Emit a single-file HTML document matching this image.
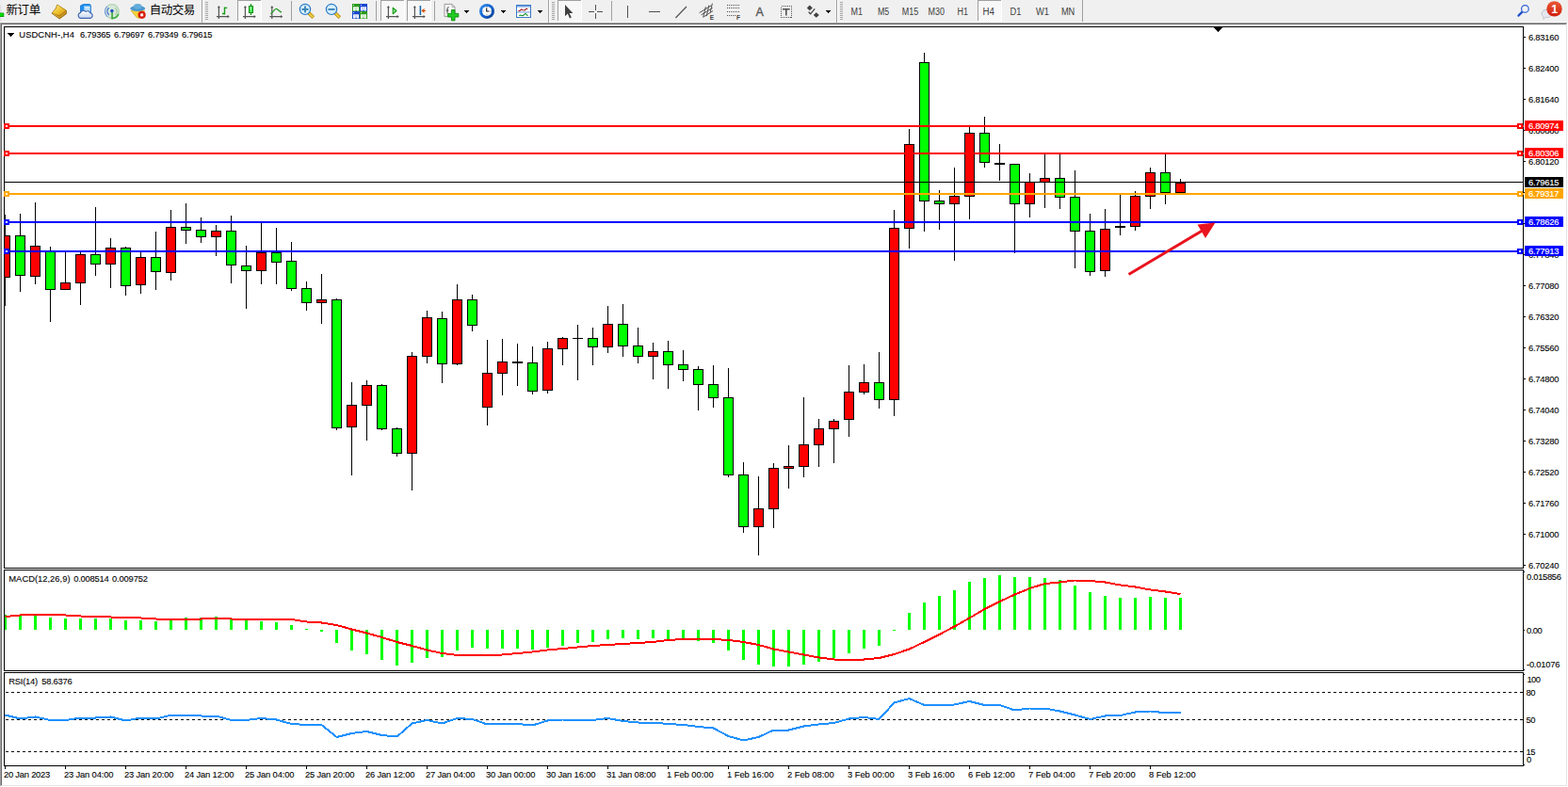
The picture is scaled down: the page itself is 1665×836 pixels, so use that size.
<!DOCTYPE html>
<html><head><meta charset="utf-8"><title>USDCNH-,H4</title>
<style>html,body{margin:0;padding:0;background:#fff;overflow:hidden}body{width:1665px;height:836px;position:relative;font-family:"Liberation Sans",sans-serif}</style>
</head><body>
<svg width="1665" height="836" viewBox="0 0 1665 836" style="position:absolute;left:0;top:0;display:block">
<defs><clipPath id="cm"><rect x="5" y="29" width="1612" height="574"/></clipPath>
<clipPath id="cmacd"><rect x="5" y="606" width="1612" height="106"/></clipPath>
<clipPath id="crsi"><rect x="5" y="715" width="1612" height="98"/></clipPath>
<linearGradient id="badge" x1="0" y1="0" x2="0" y2="1"><stop offset="0" stop-color="#ea5a36"/><stop offset="1" stop-color="#d01f0c"/></linearGradient>
</defs>
<rect width="1665" height="836" fill="#fff"/>
<rect width="1665" height="24" fill="#f0f0f0"/>
<g shape-rendering="crispEdges">
<rect y="23" width="1665" height="1" fill="#f8f8f8"/>
<rect y="24" width="1664" height="1" fill="#a0a0a0"/>
<rect x="1" y="25" width="1662" height="1" fill="#696969"/>
<rect x="0" y="24" width="1" height="811" fill="#a0a0a0"/>
<rect x="1" y="25" width="1" height="809" fill="#696969"/>
<rect x="1663" y="25" width="1" height="810" fill="#e3e3e3"/>
<rect x="1" y="834" width="1663" height="1" fill="#e3e3e3"/>
</g>
<g shape-rendering="crispEdges">
<rect x="4" y="28" width="1614" height="1" fill="#000"/>
<rect x="4" y="603" width="1614" height="1" fill="#000"/>
<rect x="4" y="605" width="1614" height="1" fill="#000"/>
<rect x="4" y="712" width="1614" height="1" fill="#000"/>
<rect x="4" y="714" width="1614" height="1" fill="#000"/>
<rect x="4" y="813" width="1614" height="1" fill="#000"/>
<rect x="4" y="28" width="1" height="576" fill="#000"/>
<rect x="4" y="605" width="1" height="108" fill="#000"/>
<rect x="4" y="714" width="1" height="100" fill="#000"/>
<rect x="1617" y="28" width="1" height="576" fill="#000"/>
<rect x="1617" y="605" width="1" height="108" fill="#000"/>
<rect x="1617" y="714" width="1" height="100" fill="#000"/>
<rect x="1618" y="39" width="2" height="1" fill="#000"/>
<rect x="1618" y="72" width="2" height="1" fill="#000"/>
<rect x="1618" y="105" width="2" height="1" fill="#000"/>
<rect x="1618" y="138" width="2" height="1" fill="#000"/>
<rect x="1618" y="171" width="2" height="1" fill="#000"/>
<rect x="1618" y="204" width="2" height="1" fill="#000"/>
<rect x="1618" y="237" width="2" height="1" fill="#000"/>
<rect x="1618" y="270" width="2" height="1" fill="#000"/>
<rect x="1618" y="303" width="2" height="1" fill="#000"/>
<rect x="1618" y="336" width="2" height="1" fill="#000"/>
<rect x="1618" y="369" width="2" height="1" fill="#000"/>
<rect x="1618" y="402" width="2" height="1" fill="#000"/>
<rect x="1618" y="435" width="2" height="1" fill="#000"/>
<rect x="1618" y="468" width="2" height="1" fill="#000"/>
<rect x="1618" y="501" width="2" height="1" fill="#000"/>
<rect x="1618" y="534" width="2" height="1" fill="#000"/>
<rect x="1618" y="567" width="2" height="1" fill="#000"/>
<rect x="1618" y="600" width="2" height="1" fill="#000"/>
<rect x="1618" y="607" width="1" height="1" fill="#000"/>
<rect x="1618" y="669" width="1" height="1" fill="#000"/>
<rect x="1618" y="711" width="1" height="1" fill="#000"/>
<rect x="1618" y="716" width="1" height="1" fill="#000"/>
<rect x="1618" y="812" width="1" height="1" fill="#000"/>
<rect x="5" y="813" width="1" height="4" fill="#000"/>
<rect x="69" y="813" width="1" height="4" fill="#000"/>
<rect x="133" y="813" width="1" height="4" fill="#000"/>
<rect x="197" y="813" width="1" height="4" fill="#000"/>
<rect x="261" y="813" width="1" height="4" fill="#000"/>
<rect x="325" y="813" width="1" height="4" fill="#000"/>
<rect x="389" y="813" width="1" height="4" fill="#000"/>
<rect x="453" y="813" width="1" height="4" fill="#000"/>
<rect x="517" y="813" width="1" height="4" fill="#000"/>
<rect x="581" y="813" width="1" height="4" fill="#000"/>
<rect x="645" y="813" width="1" height="4" fill="#000"/>
<rect x="709" y="813" width="1" height="4" fill="#000"/>
<rect x="773" y="813" width="1" height="4" fill="#000"/>
<rect x="837" y="813" width="1" height="4" fill="#000"/>
<rect x="901" y="813" width="1" height="4" fill="#000"/>
<rect x="965" y="813" width="1" height="4" fill="#000"/>
<rect x="1029" y="813" width="1" height="4" fill="#000"/>
<rect x="1093" y="813" width="1" height="4" fill="#000"/>
<rect x="1157" y="813" width="1" height="4" fill="#000"/>
<rect x="1221" y="813" width="1" height="4" fill="#000"/>
<g clip-path="url(#cm)">
<rect x="5" y="228" width="1" height="97" fill="#000"/>
<rect x="0" y="250" width="11" height="45" fill="#000"/>
<rect x="1" y="251" width="9" height="43" fill="#ff0000"/>
<rect x="21" y="227" width="1" height="83" fill="#000"/>
<rect x="16" y="250" width="11" height="43" fill="#000"/>
<rect x="17" y="251" width="9" height="41" fill="#00ff00"/>
<rect x="37" y="215" width="1" height="87" fill="#000"/>
<rect x="32" y="261" width="11" height="33" fill="#000"/>
<rect x="33" y="262" width="9" height="31" fill="#ff0000"/>
<rect x="53" y="262" width="1" height="80" fill="#000"/>
<rect x="48" y="267" width="11" height="41" fill="#000"/>
<rect x="49" y="268" width="9" height="39" fill="#00ff00"/>
<rect x="69" y="268" width="1" height="40" fill="#000"/>
<rect x="64" y="300" width="11" height="8" fill="#000"/>
<rect x="65" y="301" width="9" height="6" fill="#ff0000"/>
<rect x="85" y="268" width="1" height="56" fill="#000"/>
<rect x="80" y="270" width="11" height="31" fill="#000"/>
<rect x="81" y="271" width="9" height="29" fill="#ff0000"/>
<rect x="101" y="220" width="1" height="73" fill="#000"/>
<rect x="96" y="270" width="11" height="11" fill="#000"/>
<rect x="97" y="271" width="9" height="9" fill="#00ff00"/>
<rect x="117" y="253" width="1" height="53" fill="#000"/>
<rect x="112" y="263" width="11" height="18" fill="#000"/>
<rect x="113" y="264" width="9" height="16" fill="#ff0000"/>
<rect x="133" y="262" width="1" height="52" fill="#000"/>
<rect x="128" y="263" width="11" height="41" fill="#000"/>
<rect x="129" y="264" width="9" height="39" fill="#00ff00"/>
<rect x="149" y="268" width="1" height="44" fill="#000"/>
<rect x="144" y="273" width="11" height="30" fill="#000"/>
<rect x="145" y="274" width="9" height="28" fill="#ff0000"/>
<rect x="165" y="246" width="1" height="62" fill="#000"/>
<rect x="160" y="273" width="11" height="16" fill="#000"/>
<rect x="161" y="274" width="9" height="14" fill="#00ff00"/>
<rect x="181" y="223" width="1" height="75" fill="#000"/>
<rect x="176" y="241" width="11" height="49" fill="#000"/>
<rect x="177" y="242" width="9" height="47" fill="#ff0000"/>
<rect x="197" y="216" width="1" height="43" fill="#000"/>
<rect x="192" y="241" width="11" height="4" fill="#000"/>
<rect x="193" y="242" width="9" height="2" fill="#00ff00"/>
<rect x="213" y="231" width="1" height="27" fill="#000"/>
<rect x="208" y="244" width="11" height="8" fill="#000"/>
<rect x="209" y="245" width="9" height="6" fill="#00ff00"/>
<rect x="229" y="239" width="1" height="33" fill="#000"/>
<rect x="224" y="245" width="11" height="7" fill="#000"/>
<rect x="225" y="246" width="9" height="5" fill="#ff0000"/>
<rect x="245" y="229" width="1" height="72" fill="#000"/>
<rect x="240" y="245" width="11" height="37" fill="#000"/>
<rect x="241" y="246" width="9" height="35" fill="#00ff00"/>
<rect x="261" y="261" width="1" height="67" fill="#000"/>
<rect x="256" y="282" width="11" height="6" fill="#000"/>
<rect x="257" y="283" width="9" height="4" fill="#00ff00"/>
<rect x="277" y="237" width="1" height="65" fill="#000"/>
<rect x="272" y="268" width="11" height="20" fill="#000"/>
<rect x="273" y="269" width="9" height="18" fill="#ff0000"/>
<rect x="293" y="242" width="1" height="60" fill="#000"/>
<rect x="288" y="268" width="11" height="11" fill="#000"/>
<rect x="289" y="269" width="9" height="9" fill="#00ff00"/>
<rect x="309" y="257" width="1" height="52" fill="#000"/>
<rect x="304" y="277" width="11" height="30" fill="#000"/>
<rect x="305" y="278" width="9" height="28" fill="#00ff00"/>
<rect x="325" y="299" width="1" height="31" fill="#000"/>
<rect x="320" y="306" width="11" height="16" fill="#000"/>
<rect x="321" y="307" width="9" height="14" fill="#00ff00"/>
<rect x="341" y="291" width="1" height="53" fill="#000"/>
<rect x="336" y="318" width="11" height="4" fill="#000"/>
<rect x="337" y="319" width="9" height="2" fill="#ff0000"/>
<rect x="357" y="317" width="1" height="140" fill="#000"/>
<rect x="352" y="318" width="11" height="137" fill="#000"/>
<rect x="353" y="319" width="9" height="135" fill="#00ff00"/>
<rect x="373" y="406" width="1" height="99" fill="#000"/>
<rect x="368" y="430" width="11" height="24" fill="#000"/>
<rect x="369" y="431" width="9" height="22" fill="#ff0000"/>
<rect x="389" y="404" width="1" height="64" fill="#000"/>
<rect x="384" y="409" width="11" height="22" fill="#000"/>
<rect x="385" y="410" width="9" height="20" fill="#ff0000"/>
<rect x="405" y="408" width="1" height="49" fill="#000"/>
<rect x="400" y="409" width="11" height="47" fill="#000"/>
<rect x="401" y="410" width="9" height="45" fill="#00ff00"/>
<rect x="421" y="454" width="1" height="31" fill="#000"/>
<rect x="416" y="455" width="11" height="27" fill="#000"/>
<rect x="417" y="456" width="9" height="25" fill="#00ff00"/>
<rect x="437" y="374" width="1" height="147" fill="#000"/>
<rect x="432" y="378" width="11" height="104" fill="#000"/>
<rect x="433" y="379" width="9" height="102" fill="#ff0000"/>
<rect x="453" y="330" width="1" height="56" fill="#000"/>
<rect x="448" y="337" width="11" height="42" fill="#000"/>
<rect x="449" y="338" width="9" height="40" fill="#ff0000"/>
<rect x="469" y="331" width="1" height="76" fill="#000"/>
<rect x="464" y="338" width="11" height="49" fill="#000"/>
<rect x="465" y="339" width="9" height="47" fill="#00ff00"/>
<rect x="485" y="302" width="1" height="86" fill="#000"/>
<rect x="480" y="318" width="11" height="69" fill="#000"/>
<rect x="481" y="319" width="9" height="67" fill="#ff0000"/>
<rect x="501" y="313" width="1" height="39" fill="#000"/>
<rect x="496" y="318" width="11" height="28" fill="#000"/>
<rect x="497" y="319" width="9" height="26" fill="#00ff00"/>
<rect x="517" y="361" width="1" height="91" fill="#000"/>
<rect x="512" y="396" width="11" height="37" fill="#000"/>
<rect x="513" y="397" width="9" height="35" fill="#ff0000"/>
<rect x="533" y="360" width="1" height="60" fill="#000"/>
<rect x="528" y="384" width="11" height="13" fill="#000"/>
<rect x="529" y="385" width="9" height="11" fill="#ff0000"/>
<rect x="549" y="365" width="1" height="45" fill="#000"/>
<rect x="544" y="384" width="11" height="2" fill="#000"/>
<rect x="565" y="368" width="1" height="51" fill="#000"/>
<rect x="560" y="385" width="11" height="31" fill="#000"/>
<rect x="561" y="386" width="9" height="29" fill="#00ff00"/>
<rect x="581" y="363" width="1" height="55" fill="#000"/>
<rect x="576" y="370" width="11" height="45" fill="#000"/>
<rect x="577" y="371" width="9" height="43" fill="#ff0000"/>
<rect x="597" y="358" width="1" height="30" fill="#000"/>
<rect x="592" y="359" width="11" height="12" fill="#000"/>
<rect x="593" y="360" width="9" height="10" fill="#ff0000"/>
<rect x="613" y="345" width="1" height="59" fill="#000"/>
<rect x="608" y="359" width="11" height="1" fill="#000"/>
<rect x="629" y="348" width="1" height="40" fill="#000"/>
<rect x="624" y="359" width="11" height="10" fill="#000"/>
<rect x="625" y="360" width="9" height="8" fill="#00ff00"/>
<rect x="645" y="325" width="1" height="50" fill="#000"/>
<rect x="640" y="344" width="11" height="25" fill="#000"/>
<rect x="641" y="345" width="9" height="23" fill="#ff0000"/>
<rect x="661" y="323" width="1" height="56" fill="#000"/>
<rect x="656" y="344" width="11" height="24" fill="#000"/>
<rect x="657" y="345" width="9" height="22" fill="#00ff00"/>
<rect x="677" y="348" width="1" height="38" fill="#000"/>
<rect x="672" y="367" width="11" height="12" fill="#000"/>
<rect x="673" y="368" width="9" height="10" fill="#00ff00"/>
<rect x="693" y="364" width="1" height="39" fill="#000"/>
<rect x="688" y="373" width="11" height="6" fill="#000"/>
<rect x="689" y="374" width="9" height="4" fill="#ff0000"/>
<rect x="709" y="362" width="1" height="51" fill="#000"/>
<rect x="704" y="373" width="11" height="15" fill="#000"/>
<rect x="705" y="374" width="9" height="13" fill="#00ff00"/>
<rect x="725" y="372" width="1" height="33" fill="#000"/>
<rect x="720" y="387" width="11" height="6" fill="#000"/>
<rect x="721" y="388" width="9" height="4" fill="#00ff00"/>
<rect x="741" y="389" width="1" height="47" fill="#000"/>
<rect x="736" y="392" width="11" height="17" fill="#000"/>
<rect x="737" y="393" width="9" height="15" fill="#00ff00"/>
<rect x="757" y="388" width="1" height="45" fill="#000"/>
<rect x="752" y="408" width="11" height="15" fill="#000"/>
<rect x="753" y="409" width="9" height="13" fill="#00ff00"/>
<rect x="773" y="391" width="1" height="116" fill="#000"/>
<rect x="768" y="422" width="11" height="83" fill="#000"/>
<rect x="769" y="423" width="9" height="81" fill="#00ff00"/>
<rect x="789" y="491" width="1" height="75" fill="#000"/>
<rect x="784" y="504" width="11" height="56" fill="#000"/>
<rect x="785" y="505" width="9" height="54" fill="#00ff00"/>
<rect x="805" y="506" width="1" height="84" fill="#000"/>
<rect x="800" y="540" width="11" height="20" fill="#000"/>
<rect x="801" y="541" width="9" height="18" fill="#ff0000"/>
<rect x="821" y="492" width="1" height="69" fill="#000"/>
<rect x="816" y="497" width="11" height="44" fill="#000"/>
<rect x="817" y="498" width="9" height="42" fill="#ff0000"/>
<rect x="837" y="473" width="1" height="46" fill="#000"/>
<rect x="832" y="495" width="11" height="3" fill="#000"/>
<rect x="833" y="496" width="9" height="1" fill="#ff0000"/>
<rect x="853" y="422" width="1" height="85" fill="#000"/>
<rect x="848" y="472" width="11" height="24" fill="#000"/>
<rect x="849" y="473" width="9" height="22" fill="#ff0000"/>
<rect x="869" y="445" width="1" height="51" fill="#000"/>
<rect x="864" y="455" width="11" height="18" fill="#000"/>
<rect x="865" y="456" width="9" height="16" fill="#ff0000"/>
<rect x="885" y="445" width="1" height="47" fill="#000"/>
<rect x="880" y="447" width="11" height="9" fill="#000"/>
<rect x="881" y="448" width="9" height="7" fill="#ff0000"/>
<rect x="901" y="388" width="1" height="76" fill="#000"/>
<rect x="896" y="416" width="11" height="30" fill="#000"/>
<rect x="897" y="417" width="9" height="28" fill="#ff0000"/>
<rect x="917" y="387" width="1" height="32" fill="#000"/>
<rect x="912" y="406" width="11" height="11" fill="#000"/>
<rect x="913" y="407" width="9" height="9" fill="#ff0000"/>
<rect x="933" y="374" width="1" height="60" fill="#000"/>
<rect x="928" y="406" width="11" height="19" fill="#000"/>
<rect x="929" y="407" width="9" height="17" fill="#00ff00"/>
<rect x="949" y="223" width="1" height="219" fill="#000"/>
<rect x="944" y="242" width="11" height="183" fill="#000"/>
<rect x="945" y="243" width="9" height="181" fill="#ff0000"/>
<rect x="965" y="137" width="1" height="127" fill="#000"/>
<rect x="960" y="153" width="11" height="90" fill="#000"/>
<rect x="961" y="154" width="9" height="88" fill="#ff0000"/>
<rect x="981" y="56" width="1" height="190" fill="#000"/>
<rect x="976" y="66" width="11" height="148" fill="#000"/>
<rect x="977" y="67" width="9" height="146" fill="#00ff00"/>
<rect x="997" y="202" width="1" height="42" fill="#000"/>
<rect x="992" y="213" width="11" height="4" fill="#000"/>
<rect x="993" y="214" width="9" height="2" fill="#00ff00"/>
<rect x="1013" y="178" width="1" height="99" fill="#000"/>
<rect x="1008" y="208" width="11" height="9" fill="#000"/>
<rect x="1009" y="209" width="9" height="7" fill="#ff0000"/>
<rect x="1029" y="135" width="1" height="98" fill="#000"/>
<rect x="1024" y="141" width="11" height="68" fill="#000"/>
<rect x="1025" y="142" width="9" height="66" fill="#ff0000"/>
<rect x="1045" y="124" width="1" height="54" fill="#000"/>
<rect x="1040" y="141" width="11" height="32" fill="#000"/>
<rect x="1041" y="142" width="9" height="30" fill="#00ff00"/>
<rect x="1061" y="153" width="1" height="39" fill="#000"/>
<rect x="1056" y="173" width="11" height="2" fill="#000"/>
<rect x="1077" y="174" width="1" height="95" fill="#000"/>
<rect x="1072" y="174" width="11" height="43" fill="#000"/>
<rect x="1073" y="175" width="9" height="41" fill="#00ff00"/>
<rect x="1093" y="184" width="1" height="47" fill="#000"/>
<rect x="1088" y="193" width="11" height="24" fill="#000"/>
<rect x="1089" y="194" width="9" height="22" fill="#ff0000"/>
<rect x="1109" y="164" width="1" height="57" fill="#000"/>
<rect x="1104" y="189" width="11" height="5" fill="#000"/>
<rect x="1105" y="190" width="9" height="3" fill="#ff0000"/>
<rect x="1125" y="164" width="1" height="58" fill="#000"/>
<rect x="1120" y="189" width="11" height="21" fill="#000"/>
<rect x="1121" y="190" width="9" height="19" fill="#00ff00"/>
<rect x="1141" y="181" width="1" height="104" fill="#000"/>
<rect x="1136" y="209" width="11" height="37" fill="#000"/>
<rect x="1137" y="210" width="9" height="35" fill="#00ff00"/>
<rect x="1157" y="227" width="1" height="66" fill="#000"/>
<rect x="1152" y="245" width="11" height="44" fill="#000"/>
<rect x="1153" y="246" width="9" height="42" fill="#00ff00"/>
<rect x="1173" y="222" width="1" height="72" fill="#000"/>
<rect x="1168" y="243" width="11" height="45" fill="#000"/>
<rect x="1169" y="244" width="9" height="43" fill="#ff0000"/>
<rect x="1189" y="207" width="1" height="43" fill="#000"/>
<rect x="1184" y="240" width="11" height="2" fill="#000"/>
<rect x="1205" y="203" width="1" height="42" fill="#000"/>
<rect x="1200" y="208" width="11" height="33" fill="#000"/>
<rect x="1201" y="209" width="9" height="31" fill="#ff0000"/>
<rect x="1221" y="178" width="1" height="44" fill="#000"/>
<rect x="1216" y="183" width="11" height="26" fill="#000"/>
<rect x="1217" y="184" width="9" height="24" fill="#ff0000"/>
<rect x="1237" y="164" width="1" height="53" fill="#000"/>
<rect x="1232" y="183" width="11" height="22" fill="#000"/>
<rect x="1233" y="184" width="9" height="20" fill="#00ff00"/>
<rect x="1253" y="190" width="1" height="15" fill="#000"/>
<rect x="1248" y="194" width="11" height="11" fill="#000"/>
<rect x="1249" y="195" width="9" height="9" fill="#ff0000"/>
</g>
<rect x="5" y="193" width="1612" height="1" fill="#000"/>
<rect x="4" y="133" width="1614" height="2" fill="#ff0000"/>
<rect x="4" y="131" width="6" height="6" fill="#ff0000"/><rect x="6" y="133" width="2" height="2" fill="#fff"/>
<rect x="1611" y="131" width="6" height="6" fill="#ff0000"/><rect x="1613" y="133" width="2" height="2" fill="#fff"/>
<rect x="4" y="162" width="1614" height="2" fill="#ff0000"/>
<rect x="4" y="160" width="6" height="6" fill="#ff0000"/><rect x="6" y="162" width="2" height="2" fill="#fff"/>
<rect x="1611" y="160" width="6" height="6" fill="#ff0000"/><rect x="1613" y="162" width="2" height="2" fill="#fff"/>
<rect x="4" y="205" width="1614" height="2" fill="#ffa500"/>
<rect x="4" y="203" width="6" height="6" fill="#ffa500"/><rect x="6" y="205" width="2" height="2" fill="#fff"/>
<rect x="1611" y="203" width="6" height="6" fill="#ffa500"/><rect x="1613" y="205" width="2" height="2" fill="#fff"/>
<rect x="4" y="235" width="1614" height="2" fill="#0000ff"/>
<rect x="4" y="233" width="6" height="6" fill="#0000ff"/><rect x="6" y="235" width="2" height="2" fill="#fff"/>
<rect x="1611" y="233" width="6" height="6" fill="#0000ff"/><rect x="1613" y="235" width="2" height="2" fill="#fff"/>
<rect x="4" y="266" width="1614" height="2" fill="#0000ff"/>
<rect x="4" y="264" width="6" height="6" fill="#0000ff"/><rect x="6" y="266" width="2" height="2" fill="#fff"/>
<rect x="1611" y="264" width="6" height="6" fill="#0000ff"/><rect x="1613" y="266" width="2" height="2" fill="#fff"/>
<g clip-path="url(#cmacd)">
<rect x="4" y="653" width="3" height="16" fill="#00ff00"/>
<rect x="20" y="654" width="3" height="15" fill="#00ff00"/>
<rect x="36" y="654" width="3" height="15" fill="#00ff00"/>
<rect x="52" y="656" width="3" height="13" fill="#00ff00"/>
<rect x="68" y="657" width="3" height="12" fill="#00ff00"/>
<rect x="84" y="657" width="3" height="12" fill="#00ff00"/>
<rect x="100" y="657" width="3" height="12" fill="#00ff00"/>
<rect x="116" y="657" width="3" height="12" fill="#00ff00"/>
<rect x="132" y="659" width="3" height="10" fill="#00ff00"/>
<rect x="148" y="659" width="3" height="10" fill="#00ff00"/>
<rect x="164" y="660" width="3" height="9" fill="#00ff00"/>
<rect x="180" y="658" width="3" height="11" fill="#00ff00"/>
<rect x="196" y="656" width="3" height="13" fill="#00ff00"/>
<rect x="212" y="656" width="3" height="13" fill="#00ff00"/>
<rect x="228" y="655" width="3" height="14" fill="#00ff00"/>
<rect x="244" y="657" width="3" height="12" fill="#00ff00"/>
<rect x="260" y="658" width="3" height="11" fill="#00ff00"/>
<rect x="276" y="660" width="3" height="9" fill="#00ff00"/>
<rect x="292" y="661" width="3" height="8" fill="#00ff00"/>
<rect x="308" y="664" width="3" height="5" fill="#00ff00"/>
<rect x="324" y="668" width="3" height="1" fill="#00ff00"/>
<rect x="340" y="669" width="3" height="2" fill="#00ff00"/>
<rect x="356" y="669" width="3" height="14" fill="#00ff00"/>
<rect x="372" y="669" width="3" height="22" fill="#00ff00"/>
<rect x="388" y="669" width="3" height="26" fill="#00ff00"/>
<rect x="404" y="669" width="3" height="32" fill="#00ff00"/>
<rect x="420" y="669" width="3" height="38" fill="#00ff00"/>
<rect x="436" y="669" width="3" height="35" fill="#00ff00"/>
<rect x="452" y="669" width="3" height="30" fill="#00ff00"/>
<rect x="468" y="669" width="3" height="29" fill="#00ff00"/>
<rect x="484" y="669" width="3" height="22" fill="#00ff00"/>
<rect x="500" y="669" width="3" height="19" fill="#00ff00"/>
<rect x="516" y="669" width="3" height="20" fill="#00ff00"/>
<rect x="532" y="669" width="3" height="20" fill="#00ff00"/>
<rect x="548" y="669" width="3" height="20" fill="#00ff00"/>
<rect x="564" y="669" width="3" height="21" fill="#00ff00"/>
<rect x="580" y="669" width="3" height="19" fill="#00ff00"/>
<rect x="596" y="669" width="3" height="17" fill="#00ff00"/>
<rect x="612" y="669" width="3" height="14" fill="#00ff00"/>
<rect x="628" y="669" width="3" height="13" fill="#00ff00"/>
<rect x="644" y="669" width="3" height="10" fill="#00ff00"/>
<rect x="660" y="669" width="3" height="9" fill="#00ff00"/>
<rect x="676" y="669" width="3" height="10" fill="#00ff00"/>
<rect x="692" y="669" width="3" height="9" fill="#00ff00"/>
<rect x="708" y="669" width="3" height="11" fill="#00ff00"/>
<rect x="724" y="669" width="3" height="11" fill="#00ff00"/>
<rect x="740" y="669" width="3" height="12" fill="#00ff00"/>
<rect x="756" y="669" width="3" height="14" fill="#00ff00"/>
<rect x="772" y="669" width="3" height="22" fill="#00ff00"/>
<rect x="788" y="669" width="3" height="32" fill="#00ff00"/>
<rect x="804" y="669" width="3" height="37" fill="#00ff00"/>
<rect x="820" y="669" width="3" height="39" fill="#00ff00"/>
<rect x="836" y="669" width="3" height="39" fill="#00ff00"/>
<rect x="852" y="669" width="3" height="37" fill="#00ff00"/>
<rect x="868" y="669" width="3" height="34" fill="#00ff00"/>
<rect x="884" y="669" width="3" height="30" fill="#00ff00"/>
<rect x="900" y="669" width="3" height="25" fill="#00ff00"/>
<rect x="916" y="669" width="3" height="20" fill="#00ff00"/>
<rect x="932" y="669" width="3" height="17" fill="#00ff00"/>
<rect x="948" y="669" width="3" height="1" fill="#00ff00"/>
<rect x="964" y="651" width="3" height="18" fill="#00ff00"/>
<rect x="980" y="640" width="3" height="29" fill="#00ff00"/>
<rect x="996" y="633" width="3" height="36" fill="#00ff00"/>
<rect x="1012" y="627" width="3" height="42" fill="#00ff00"/>
<rect x="1028" y="618" width="3" height="51" fill="#00ff00"/>
<rect x="1044" y="614" width="3" height="55" fill="#00ff00"/>
<rect x="1060" y="611" width="3" height="58" fill="#00ff00"/>
<rect x="1076" y="613" width="3" height="56" fill="#00ff00"/>
<rect x="1092" y="613" width="3" height="56" fill="#00ff00"/>
<rect x="1108" y="614" width="3" height="55" fill="#00ff00"/>
<rect x="1124" y="616" width="3" height="53" fill="#00ff00"/>
<rect x="1140" y="622" width="3" height="47" fill="#00ff00"/>
<rect x="1156" y="629" width="3" height="40" fill="#00ff00"/>
<rect x="1172" y="633" width="3" height="36" fill="#00ff00"/>
<rect x="1188" y="635" width="3" height="34" fill="#00ff00"/>
<rect x="1204" y="635" width="3" height="34" fill="#00ff00"/>
<rect x="1220" y="634" width="3" height="35" fill="#00ff00"/>
<rect x="1236" y="635" width="3" height="34" fill="#00ff00"/>
<rect x="1252" y="635" width="3" height="34" fill="#00ff00"/>
</g>
<line x1="6" x2="1617" y1="735.5" y2="735.5" stroke="#000" stroke-width="1" stroke-dasharray="3 3"/>
<line x1="6" x2="1617" y1="764.5" y2="764.5" stroke="#000" stroke-width="1" stroke-dasharray="3 3"/>
<line x1="6" x2="1617" y1="798.5" y2="798.5" stroke="#000" stroke-width="1" stroke-dasharray="3 3"/>
</g>
<polyline clip-path="url(#cmacd)" points="5.5,655 21.5,653.5 37.5,653 53.5,653 69.5,653.5 85.5,654.5 101.5,655 117.5,655.5 133.5,656 149.5,656.5 165.5,657.5 181.5,657.5 197.5,657.5 213.5,657.5 229.5,657 245.5,657.5 261.5,657.5 277.5,657.5 293.5,657.5 309.5,658 325.5,660.5 341.5,661.5 357.5,664 373.5,668.5 389.5,672.5 405.5,677 421.5,682 437.5,686 453.5,690.5 469.5,694 485.5,696 501.5,696 517.5,696 533.5,695.5 549.5,694 565.5,692.5 581.5,690.5 597.5,689 613.5,687.5 629.5,686 645.5,685 661.5,684 677.5,683 693.5,682 709.5,680 725.5,679 741.5,678.5 757.5,679 773.5,680 789.5,682 805.5,685 821.5,689.5 837.5,692.5 853.5,695.5 869.5,698.5 885.5,700.5 901.5,700.5 917.5,700.5 933.5,699 949.5,695 965.5,689.5 981.5,682 997.5,674 1013.5,665.5 1029.5,656.5 1045.5,647 1061.5,639 1077.5,631.5 1093.5,625 1109.5,620 1125.5,618.5 1141.5,616.5 1157.5,617 1173.5,618.5 1189.5,621.5 1205.5,623.5 1221.5,626.5 1237.5,628.5 1253.5,631" fill="none" stroke="#ff0000" stroke-width="2" stroke-linejoin="round" shape-rendering="crispEdges"/>
<polyline clip-path="url(#crsi)" points="5.5,759.5 21.5,763.5 37.5,761.5 53.5,765 69.5,765 85.5,762.5 101.5,762.5 117.5,761.5 133.5,765.5 149.5,762.5 165.5,763.5 181.5,759.75 197.5,760 213.5,760.5 229.5,760.5 245.5,765 261.5,765 277.5,763 293.5,764.5 309.5,769 325.5,770 341.5,770 357.5,783 373.5,779 389.5,777 405.5,781 421.5,782.5 437.5,768.5 453.5,765 469.5,768.5 485.5,763 501.5,764 517.5,769.5 533.5,769 549.5,769 565.5,770.5 581.5,765.5 597.5,764.5 613.5,764.5 629.5,765 645.5,763 661.5,766 677.5,767.5 693.5,767.5 709.5,769 725.5,770 741.5,772 757.5,773.5 773.5,782 789.5,786.5 805.5,783 821.5,775.5 837.5,775.5 853.5,771.5 869.5,769.5 885.5,768 901.5,763.5 917.5,762 933.5,764 949.5,746.5 965.5,742 981.5,749 997.5,749 1013.5,748.5 1029.5,745 1045.5,749 1061.5,749 1077.5,754.5 1093.5,752.5 1109.5,752.5 1125.5,755.5 1141.5,759.5 1157.5,764 1173.5,760.5 1189.5,760 1205.5,756.5 1221.5,755.5 1237.5,757.3 1253.5,757.3" fill="none" stroke="#1e90ff" stroke-width="2" stroke-linejoin="round" shape-rendering="crispEdges"/>
<line x1="1198.5" y1="291.5" x2="1280" y2="243" stroke="#e8141e" stroke-width="3"/>
<polygon points="1290.5,236.5 1271.5,238.5 1280,253" fill="#e8141e"/>
<g shape-rendering="crispEdges" fill="#000"><rect x="1289" y="29" width="9" height="1"/><rect x="1290" y="30" width="7" height="1"/><rect x="1291" y="31" width="5" height="1"/><rect x="1292" y="32" width="3" height="1"/><rect x="1293" y="33" width="1" height="1"/></g>
<g shape-rendering="crispEdges" fill="#000"><rect x="8" y="35" width="7" height="1"/><rect x="9" y="36" width="5" height="1"/><rect x="10" y="37" width="3" height="1"/><rect x="11" y="38" width="1" height="1"/></g>
<g font-family="'Liberation Sans', sans-serif" font-size="9.4px" fill="#000" stroke="#000" stroke-width=".1">
<text x="20.3" y="39.7" xml:space="preserve" textLength="58.6" lengthAdjust="spacing">USDCNH-,H4</text>
<text x="85" y="39.7" xml:space="preserve" textLength="32.5" lengthAdjust="spacing">6.79365</text>
<text x="121" y="39.7" xml:space="preserve" textLength="32.5" lengthAdjust="spacing">6.79697</text>
<text x="157" y="39.7" xml:space="preserve" textLength="32.5" lengthAdjust="spacing">6.79349</text>
<text x="193" y="39.7" xml:space="preserve" textLength="32.5" lengthAdjust="spacing">6.79615</text>
<text x="9.3" y="618" xml:space="preserve" textLength="65.2" lengthAdjust="spacing">MACD(12,26,9)</text>
<text x="78.2" y="618" xml:space="preserve" textLength="37.5" lengthAdjust="spacing">0.008514</text>
<text x="119" y="618" xml:space="preserve" textLength="38" lengthAdjust="spacing">0.009752</text>
<text x="9.3" y="727" xml:space="preserve" textLength="30.9" lengthAdjust="spacing">RSI(14)</text>
<text x="44.2" y="727" xml:space="preserve" textLength="32.5" lengthAdjust="spacing">58.6376</text>
<text x="1623" y="43" xml:space="preserve" textLength="32.5" lengthAdjust="spacing">6.83160</text>
<text x="1623" y="76" xml:space="preserve" textLength="32.5" lengthAdjust="spacing">6.82400</text>
<text x="1623" y="109" xml:space="preserve" textLength="32.5" lengthAdjust="spacing">6.81640</text>
<text x="1623" y="142" xml:space="preserve" textLength="32.5" lengthAdjust="spacing">6.80880</text>
<text x="1623" y="175" xml:space="preserve" textLength="32.5" lengthAdjust="spacing">6.80120</text>
<text x="1623" y="208" xml:space="preserve" textLength="32.5" lengthAdjust="spacing">6.79360</text>
<text x="1623" y="241" xml:space="preserve" textLength="32.5" lengthAdjust="spacing">6.78600</text>
<text x="1623" y="274" xml:space="preserve" textLength="32.5" lengthAdjust="spacing">6.77840</text>
<text x="1623" y="307" xml:space="preserve" textLength="32.5" lengthAdjust="spacing">6.77080</text>
<text x="1623" y="340" xml:space="preserve" textLength="32.5" lengthAdjust="spacing">6.76320</text>
<text x="1623" y="373" xml:space="preserve" textLength="32.5" lengthAdjust="spacing">6.75560</text>
<text x="1623" y="406" xml:space="preserve" textLength="32.5" lengthAdjust="spacing">6.74800</text>
<text x="1623" y="439" xml:space="preserve" textLength="32.5" lengthAdjust="spacing">6.74040</text>
<text x="1623" y="472" xml:space="preserve" textLength="32.5" lengthAdjust="spacing">6.73280</text>
<text x="1623" y="505" xml:space="preserve" textLength="32.5" lengthAdjust="spacing">6.72520</text>
<text x="1623" y="538" xml:space="preserve" textLength="32.5" lengthAdjust="spacing">6.71760</text>
<text x="1623" y="571" xml:space="preserve" textLength="32.5" lengthAdjust="spacing">6.71000</text>
<text x="1623" y="604" xml:space="preserve" textLength="32.5" lengthAdjust="spacing">6.70240</text>
<text x="1621" y="616" xml:space="preserve" textLength="37" lengthAdjust="spacing">0.015856</text>
<text x="1621" y="673" xml:space="preserve" textLength="16.7" lengthAdjust="spacing">0.00</text>
<text x="1621" y="709" xml:space="preserve" textLength="35.4" lengthAdjust="spacing">-0.01076</text>
<text x="1621.4" y="725" xml:space="preserve" textLength="14.5" lengthAdjust="spacing">100</text>
<text x="1620.5" y="739" xml:space="preserve" textLength="10" lengthAdjust="spacing">80</text>
<text x="1620.5" y="768" xml:space="preserve" textLength="10" lengthAdjust="spacing">50</text>
<text x="1620.5" y="802" xml:space="preserve" textLength="10" lengthAdjust="spacing">15</text>
<text x="1621" y="810" xml:space="preserve">0</text>
<text x="4" y="826" xml:space="preserve" textLength="49.3" lengthAdjust="spacing">20 Jan 2023</text>
<text x="68" y="826" xml:space="preserve" textLength="52.4" lengthAdjust="spacing">23 Jan 04:00</text>
<text x="132" y="826" xml:space="preserve" textLength="52.4" lengthAdjust="spacing">23 Jan 20:00</text>
<text x="196" y="826" xml:space="preserve" textLength="52.4" lengthAdjust="spacing">24 Jan 12:00</text>
<text x="260" y="826" xml:space="preserve" textLength="52.4" lengthAdjust="spacing">25 Jan 04:00</text>
<text x="324" y="826" xml:space="preserve" textLength="52.4" lengthAdjust="spacing">25 Jan 20:00</text>
<text x="388" y="826" xml:space="preserve" textLength="52.4" lengthAdjust="spacing">26 Jan 12:00</text>
<text x="452" y="826" xml:space="preserve" textLength="52.4" lengthAdjust="spacing">27 Jan 04:00</text>
<text x="516" y="826" xml:space="preserve" textLength="52.4" lengthAdjust="spacing">30 Jan 00:00</text>
<text x="580" y="826" xml:space="preserve" textLength="52.4" lengthAdjust="spacing">30 Jan 16:00</text>
<text x="644" y="826" xml:space="preserve" textLength="52.4" lengthAdjust="spacing">31 Jan 08:00</text>
<text x="708" y="826" xml:space="preserve" textLength="49.6" lengthAdjust="spacing">1 Feb 00:00</text>
<text x="772" y="826" xml:space="preserve" textLength="49.6" lengthAdjust="spacing">1 Feb 16:00</text>
<text x="836" y="826" xml:space="preserve" textLength="49.6" lengthAdjust="spacing">2 Feb 08:00</text>
<text x="900" y="826" xml:space="preserve" textLength="49.6" lengthAdjust="spacing">3 Feb 00:00</text>
<text x="964" y="826" xml:space="preserve" textLength="49.6" lengthAdjust="spacing">3 Feb 16:00</text>
<text x="1028" y="826" xml:space="preserve" textLength="49.6" lengthAdjust="spacing">6 Feb 12:00</text>
<text x="1092" y="826" xml:space="preserve" textLength="49.6" lengthAdjust="spacing">7 Feb 04:00</text>
<text x="1156" y="826" xml:space="preserve" textLength="49.6" lengthAdjust="spacing">7 Feb 20:00</text>
<text x="1220" y="826" xml:space="preserve" textLength="49.6" lengthAdjust="spacing">8 Feb 12:00</text>
</g>
<g shape-rendering="crispEdges">
<rect x="1619" y="128" width="41" height="11" fill="#ff0000"/>
<rect x="1619" y="157" width="41" height="11" fill="#ff0000"/>
<rect x="1619" y="200" width="41" height="11" fill="#ffa500"/>
<rect x="1619" y="230" width="41" height="11" fill="#0000ff"/>
<rect x="1619" y="261" width="41" height="11" fill="#0000ff"/>
<rect x="1619" y="188" width="41" height="11" fill="#000"/>
</g>
<g font-family="'Liberation Sans', sans-serif" font-size="9.4px" fill="#fff" stroke="#fff" stroke-width=".15">
<text x="1623" y="137" textLength="32.5" lengthAdjust="spacing">6.80974</text>
<text x="1623" y="166" textLength="32.5" lengthAdjust="spacing">6.80306</text>
<text x="1623" y="209" textLength="32.5" lengthAdjust="spacing">6.79317</text>
<text x="1623" y="239" textLength="32.5" lengthAdjust="spacing">6.78626</text>
<text x="1623" y="270" textLength="32.5" lengthAdjust="spacing">6.77913</text>
<text x="1623" y="197" textLength="32.5" lengthAdjust="spacing">6.79615</text>
</g>
<defs><pattern id="chk" width="2" height="2" patternUnits="userSpaceOnUse"><rect width="2" height="2" fill="#fff"/><rect width="1" height="1" fill="#f0f0f0"/><rect x="1" y="1" width="1" height="1" fill="#f0f0f0"/></pattern></defs>
<rect x="0" y="5" width="1.4" height="17" fill="#e0e0e0"/><rect x="0" y="13.6" width="4.2" height="4.4" fill="#0a8a0a"/><rect x="0" y="14.2" width="3.5" height="3.1" fill="#00e000"/>
<text x="6.4" y="15.3" font-family="'Liberation Sans','Noto Sans CJK SC',sans-serif" font-size="12.5px" fill="#000" letter-spacing="-0.3">新订单</text>
<defs><linearGradient id="gb" x1="0" y1="0" x2="1" y2="1"><stop offset="0" stop-color="#fdee86"/><stop offset=".55" stop-color="#eec02c"/><stop offset="1" stop-color="#c98c10"/></linearGradient><linearGradient id="cl" x1="0" y1="0" x2="0" y2="1"><stop offset="0" stop-color="#ffffff"/><stop offset="1" stop-color="#c4d4ee"/></linearGradient></defs>
<path d="M60.8 5L70.4 11.2L70.6 14.6L63.2 20L55 14.2L59.2 9Z" fill="#b07a0a" stroke="#9a6808" stroke-width=".8" stroke-linejoin="round"/>
<path d="M60.9 5.3L69.9 11.3L62.9 16.6L55.8 13.4L59.6 9Z" fill="url(#gb)"/>
<path d="M56 14.4L63 18.4L70 13" stroke="#e8c860" stroke-width=".7" fill="none"/>
<path d="M85.5 6L88.5 4.6H95.5L96.4 6V13.4H85.5Z" fill="#1e90f0" stroke="#0f6fd0" stroke-width=".8"/>
<rect x="89" y="6.2" width="7" height="7" fill="#8cc8fa"/><rect x="90.2" y="7.6" width="5" height="1.2" fill="#fff"/><rect x="90.2" y="9.8" width="5" height="1" fill="#e8f4ff"/>
<path d="M86 19.4a3 3 0 0 1 -.6 -5.9a3.4 3.4 0 0 1 5.6 -1.2a3 3 0 0 1 4.6 1.4a2.9 2.9 0 0 1 .4 5.7Z" fill="url(#cl)" stroke="#3f66ae" stroke-width="1.1"/>
<defs><radialGradient id="sg"><stop offset="0" stop-color="#cfe6d2"/><stop offset=".7" stop-color="#dbeadc"/><stop offset="1" stop-color="#e9efe9"/></radialGradient></defs><circle cx="118.9" cy="12.1" r="7.8" fill="url(#sg)"/>
<g fill="none" stroke-linecap="round"><circle cx="118.9" cy="12.1" r="7.3" stroke="#b4d6b4" stroke-width="1.5"/>
<path d="M113.4 7.2a7.3 7.3 0 0 0 .3 10.2" stroke="#7a9ee6" stroke-width="1.2"/><path d="M115.3 8.6a5 5 0 0 0 .2 7" stroke="#3a6ad8" stroke-width="1.3"/><path d="M122.6 8.7a5 5 0 0 1 .2 6.6" stroke="#a6cfa6" stroke-width="1.3"/>
<path d="M119 19.6a7.4 7.4 0 0 0 6.6 -4.2" stroke="#3cb043" stroke-width="1.7"/></g>
<rect x="118.3" y="12" width="1.5" height="7.8" fill="#2aa02a"/><circle cx="118.9" cy="11.6" r="1.8" fill="#2a50c8"/>
<path d="M139.2 11.2H153.6L147.4 19.6L144.6 18Z" fill="#f6d23c" stroke="#d8a818" stroke-width=".7"/>
<ellipse cx="146.2" cy="9" rx="8" ry="2.9" fill="#4a98d0"/><ellipse cx="146.2" cy="6.8" rx="4.4" ry="2.9" fill="#62acdc"/>
<circle cx="150.6" cy="15.8" r="4.1" fill="#d81e0a"/><rect x="149.2" y="14.4" width="2.9" height="2.9" fill="#fff"/>
<text x="158.8" y="15.2" font-family="'Liberation Sans','Noto Sans CJK SC',sans-serif" font-size="12.5px" fill="#000" letter-spacing="-0.5">自动交易</text>
<rect x="214" y="0" width="1" height="24" fill="#a0a0a0" shape-rendering="crispEdges"/><rect x="215" y="0" width="1" height="24" fill="#fff" shape-rendering="crispEdges"/>
<g shape-rendering="crispEdges" fill="#a6a6a6"><rect x="218" y="2" width="3" height="1"/><rect x="218" y="4" width="3" height="1"/><rect x="218" y="6" width="3" height="1"/><rect x="218" y="8" width="3" height="1"/><rect x="218" y="10" width="3" height="1"/><rect x="218" y="12" width="3" height="1"/><rect x="218" y="14" width="3" height="1"/><rect x="218" y="16" width="3" height="1"/><rect x="218" y="18" width="3" height="1"/><rect x="218" y="20" width="3" height="1"/></g>
<g stroke="#555" stroke-width="1.2" fill="none"><path d="M232.4 20V7M230 17.6H243"/></g>
<path d="M232.4 6l1.6 2.2h-3.2zM243.8 17.6l-2.2 -1.6v3.2z" fill="#555"/>
<path d="M238.5 7.4V15.6M236 14.5H238.5M238.5 8.4H241.2" stroke="#1a9c1a" stroke-width="1.4" fill="none"/>
<g shape-rendering="crispEdges"><rect x="253" y="1" width="24" height="21" fill="url(#chk)"/><rect x="252" y="0" width="25" height="1" fill="#a0a0a0"/><rect x="252" y="0" width="1" height="22" fill="#a0a0a0"/><rect x="252" y="22" width="26" height="1" fill="#fff"/><rect x="277" y="0" width="1" height="23" fill="#fff"/></g>
<g stroke="#555" stroke-width="1.2" fill="none"><path d="M260.4 20V7M258 17.6H271"/></g>
<path d="M260.4 6l1.6 2.2h-3.2zM271.8 17.6l-2.2 -1.6v3.2z" fill="#555"/>
<g shape-rendering="crispEdges"><rect x="266" y="4" width="1" height="12" fill="#0a860a"/><rect x="264" y="6" width="5" height="8" fill="#0a8a0a"/><rect x="265" y="7" width="3" height="6" fill="#4aee5a"/><rect x="265" y="7" width="2" height="3" fill="#80ff88"/></g>
<g stroke="#555" stroke-width="1.2" fill="none"><path d="M288.8 20V7M286.4 17.6H299.4"/></g>
<path d="M288.8 6l1.6 2.2h-3.2zM300.2 17.6l-2.2 -1.6v3.2z" fill="#555"/>
<path d="M287.4 14.8C290 13 291.5 9.2 293.4 9.4C295.2 9.6 296.6 12.4 298.9 13" stroke="#2a9c2a" stroke-width="1.3" fill="none"/>
<rect x="309" y="1" width="1" height="21" fill="#a0a0a0" shape-rendering="crispEdges"/>
<line x1="327.4" y1="13.4" x2="332.8" y2="18.6" stroke="#b88a10" stroke-width="3.6"/>
<line x1="327.4" y1="13.4" x2="332.4" y2="18.2" stroke="#f0d040" stroke-width="2"/>
<circle cx="324" cy="9.9" r="5.6" fill="#d6effc" stroke="#2a7ac8" stroke-width="1.2"/>
<rect x="320.5" y="9" width="7" height="1.9" fill="#3a86b8"/>
<rect x="323.05" y="6.4" width="1.9" height="7" fill="#3a86b8"/>
<line x1="355.4" y1="13.4" x2="360.8" y2="18.6" stroke="#b88a10" stroke-width="3.6"/>
<line x1="355.4" y1="13.4" x2="360.4" y2="18.2" stroke="#f0d040" stroke-width="2"/>
<circle cx="352" cy="9.9" r="5.6" fill="#d6effc" stroke="#2a7ac8" stroke-width="1.2"/>
<rect x="348.5" y="9" width="7" height="1.9" fill="#3a86b8"/>
<rect x="374" y="4" width="8" height="8" fill="#2a9a1a"/><rect x="375" y="7.3" width="6" height="4.2" fill="#fff"/><rect x="376" y="8.5" width="4" height="1" fill="#a6dc98"/><rect x="377" y="10.7" width="2" height=".9" fill="#2a9a1a"/><rect x="375" y="5" width="1" height="1" fill="#fff" opacity=".8"/>
<rect x="382" y="4" width="8" height="8" fill="#1a48d0"/><rect x="383" y="7.3" width="6" height="4.2" fill="#fff"/><rect x="384" y="8.5" width="4" height="1" fill="#a6bcf2"/><rect x="385" y="10.7" width="2" height=".9" fill="#1a48d0"/><rect x="383" y="5" width="1" height="1" fill="#fff" opacity=".8"/>
<rect x="374" y="12" width="8" height="8" fill="#1a48d0"/><rect x="375" y="15.3" width="6" height="4.2" fill="#fff"/><rect x="376" y="16.5" width="4" height="1" fill="#a6bcf2"/><rect x="377" y="18.7" width="2" height=".9" fill="#1a48d0"/><rect x="375" y="13" width="1" height="1" fill="#fff" opacity=".8"/>
<rect x="382" y="12" width="8" height="8" fill="#2a9a1a"/><rect x="383" y="15.3" width="6" height="4.2" fill="#fff"/><rect x="384" y="16.5" width="4" height="1" fill="#a6dc98"/><rect x="385" y="18.7" width="2" height=".9" fill="#2a9a1a"/><rect x="383" y="13" width="1" height="1" fill="#fff" opacity=".8"/>
<rect x="399" y="1" width="1" height="21" fill="#a0a0a0" shape-rendering="crispEdges"/>
<g shape-rendering="crispEdges"><rect x="405" y="1" width="24" height="21" fill="url(#chk)"/><rect x="404" y="0" width="25" height="1" fill="#a0a0a0"/><rect x="404" y="0" width="1" height="22" fill="#a0a0a0"/><rect x="404" y="22" width="26" height="1" fill="#fff"/><rect x="429" y="0" width="1" height="23" fill="#fff"/></g>
<g stroke="#555" stroke-width="1.2" fill="none"><path d="M412.4 20V7M410 17.6H423"/></g>
<path d="M412.4 6l1.6 2.2h-3.2zM423.8 17.6l-2.2 -1.6v3.2z" fill="#555"/>
<path d="M417.2 8.2V14.8L421 11.5Z" fill="#7fe07f" stroke="#1a9c1a" stroke-width="1.1" stroke-linejoin="round"/>
<g shape-rendering="crispEdges"><rect x="433" y="1" width="24" height="21" fill="url(#chk)"/><rect x="432" y="0" width="25" height="1" fill="#a0a0a0"/><rect x="432" y="0" width="1" height="22" fill="#a0a0a0"/><rect x="432" y="22" width="26" height="1" fill="#fff"/><rect x="457" y="0" width="1" height="23" fill="#fff"/></g>
<g stroke="#555" stroke-width="1.2" fill="none"><path d="M440.4 20V7M438 17.6H451"/></g>
<path d="M440.4 6l1.6 2.2h-3.2zM451.8 17.6l-2.2 -1.6v3.2z" fill="#555"/>
<rect x="445.6" y="6" width="1.6" height="10" fill="#1a6aaa"/><path d="M452 11.4H448.4" stroke="#d84a00" stroke-width="1.2"/><path d="M447.4 11.4l3.4 -2.6l-.8 2.6l.8 2.6z" fill="#d84a00"/>
<rect x="461" y="1" width="1" height="21" fill="#a0a0a0" shape-rendering="crispEdges"/>
<path d="M472 4.4H480L483 7.4V17.6H472Z" fill="#fafafa" stroke="#9a9a9a" stroke-width="1" stroke-linejoin="round"/><path d="M480 4.4V7.4H483" fill="none" stroke="#9a9a9a" stroke-width=".8"/>
<path d="M476.6 7.6q-1.6 0 -1.6 1.8v5M473.8 11h2.6" stroke="#3a3a3a" stroke-width="1" fill="none"/>
<path d="M479.4 10.6h3.6v3.8h3.8v3.6h-3.8v3.8h-3.6v-3.8h-3.8v-3.6h3.8z" fill="#22cc22" stroke="#0a8a0a" stroke-width=".9" stroke-linejoin="round"/>
<g shape-rendering="crispEdges" fill="#000"><rect x="493" y="11" width="5" height="1"/><rect x="494" y="12" width="3" height="1"/><rect x="495" y="13" width="1" height="1"/></g>
<defs><linearGradient id="ck" x1="0" y1="0" x2="1" y2="1"><stop offset="0" stop-color="#3a96f4"/><stop offset=".5" stop-color="#1464d0"/><stop offset="1" stop-color="#08358c"/></linearGradient></defs>
<circle cx="517" cy="11.9" r="8" fill="url(#ck)"/><circle cx="517" cy="11.9" r="5" fill="#fcfcfc"/>
<g fill="#556"><rect x="516.6" y="7.4" width=".8" height=".9"/><rect x="516.6" y="15.4" width=".8" height=".9"/><rect x="512.6" y="11.5" width=".9" height=".8"/><rect x="520.5" y="11.5" width=".9" height=".8"/></g>
<path d="M516.7 8.4V12H519.4" stroke="#111" stroke-width="1.1" fill="none"/>
<g shape-rendering="crispEdges" fill="#000"><rect x="532" y="11" width="5" height="1"/><rect x="533" y="12" width="3" height="1"/><rect x="534" y="13" width="1" height="1"/></g>
<rect x="548.5" y="5.5" width="15" height="13" fill="#fff" stroke="#3a78c8" stroke-width="1"/><rect x="548" y="5" width="16" height="2.4" fill="#3a78c8"/><rect x="549" y="6" width="14" height=".8" fill="#8ab4ec"/><rect x="549" y="12.5" width="14" height=".9" fill="#5a90d8"/>
<path d="M550.4 11.4h1.6l1.6-1.6l1.6 1l1.8.1l1.8-1.5l1.6.1" stroke="#a01010" stroke-width="1.05" fill="none"/><path d="M551.2 16.6l1.6-.5l1.5.7l1.6-.5l1.9-1.9l1.6 1.3l1 1.2" stroke="#0a8a1a" stroke-width="1.05" fill="none"/>
<g shape-rendering="crispEdges" fill="#000"><rect x="571" y="11" width="5" height="1"/><rect x="572" y="12" width="3" height="1"/><rect x="573" y="13" width="1" height="1"/></g>
<rect x="582" y="0" width="1" height="24" fill="#a0a0a0" shape-rendering="crispEdges"/><rect x="583" y="0" width="1" height="24" fill="#fff" shape-rendering="crispEdges"/>
<g shape-rendering="crispEdges" fill="#a6a6a6"><rect x="586" y="2" width="3" height="1"/><rect x="586" y="4" width="3" height="1"/><rect x="586" y="6" width="3" height="1"/><rect x="586" y="8" width="3" height="1"/><rect x="586" y="10" width="3" height="1"/><rect x="586" y="12" width="3" height="1"/><rect x="586" y="14" width="3" height="1"/><rect x="586" y="16" width="3" height="1"/><rect x="586" y="18" width="3" height="1"/><rect x="586" y="20" width="3" height="1"/></g>
<g shape-rendering="crispEdges"><rect x="593" y="1" width="24" height="21" fill="url(#chk)"/><rect x="592" y="0" width="25" height="1" fill="#a0a0a0"/><rect x="592" y="0" width="1" height="22" fill="#a0a0a0"/><rect x="592" y="22" width="26" height="1" fill="#fff"/><rect x="617" y="0" width="1" height="23" fill="#fff"/></g>
<path d="M600 5V17.2L602.8 14.6L605 19.4L606.8 18.6L604.6 13.9H608.4Z" fill="#404040"/>
<g shape-rendering="crispEdges" fill="#505050"><rect x="632" y="5" width="1" height="6"/><rect x="632" y="14" width="1" height="6"/><rect x="625" y="12" width="6" height="1"/><rect x="634" y="12" width="6" height="1"/></g>
<rect x="649" y="1" width="1" height="21" fill="#a0a0a0" shape-rendering="crispEdges"/>
<g shape-rendering="crispEdges" fill="#505050"><rect x="666" y="6" width="1" height="13"/><rect x="689" y="12" width="12" height="1"/></g>
<line x1="717.4" y1="19" x2="729" y2="7" stroke="#505050" stroke-width="1.1"/>
<g stroke="#505050" stroke-width="1" fill="none"><path d="M742.6 13.6L755.4 5.8M744.6 15.8L756.6 8.4M746.4 18.4L757 11.6"/><path d="M749.4 7.2l-2.6 10.6M752.8 5.6l-2.6 11.6M756.4 3.6l-2.2 9.4"/></g>
<text x="753.8" y="20.8" font-family="'Liberation Sans',sans-serif" font-weight="bold" font-size="6.4px" fill="#404040">E</text>
<g stroke="#505050" stroke-width="1" stroke-dasharray="1 1" shape-rendering="crispEdges"><path d="M772 5.5H785M772 8.5H785M772 12.5H785M772 16.5H782"/></g>
<text x="782" y="20.8" font-family="'Liberation Sans',sans-serif" font-weight="bold" font-size="6.4px" fill="#404040">F</text>
<text x="802.4" y="17" font-family="'Liberation Sans',sans-serif" font-size="12.5px" fill="#5a5a5a" stroke="#5a5a5a" stroke-width=".35">A</text>
<rect x="829.5" y="6.5" width="11" height="12" fill="none" stroke="#505050" stroke-width="1" stroke-dasharray="1 1" shape-rendering="crispEdges"/>
<path d="M831 9H838.6V10.6H835.6V16.4H834V10.6H831Z" fill="#505050"/>
<path d="M859.8 5.6l3 3l-3 2.6l-3-2.6zM866.8 13.2l3 2.8l-3 2.8l-3-2.8z" fill="#404040"/><path d="M858.6 12.6l2 2.2l4.6-5.4" stroke="#404040" stroke-width="1.3" fill="none"/>
<g shape-rendering="crispEdges" fill="#000"><rect x="877" y="11" width="5" height="1"/><rect x="878" y="12" width="3" height="1"/><rect x="879" y="13" width="1" height="1"/></g>
<rect x="888" y="0" width="1" height="24" fill="#a0a0a0" shape-rendering="crispEdges"/><rect x="889" y="0" width="1" height="24" fill="#fff" shape-rendering="crispEdges"/>
<g shape-rendering="crispEdges" fill="#a6a6a6"><rect x="892" y="2" width="3" height="1"/><rect x="892" y="4" width="3" height="1"/><rect x="892" y="6" width="3" height="1"/><rect x="892" y="8" width="3" height="1"/><rect x="892" y="10" width="3" height="1"/><rect x="892" y="12" width="3" height="1"/><rect x="892" y="14" width="3" height="1"/><rect x="892" y="16" width="3" height="1"/><rect x="892" y="18" width="3" height="1"/><rect x="892" y="20" width="3" height="1"/></g>
<g shape-rendering="crispEdges"><rect x="1039" y="1" width="24" height="21" fill="url(#chk)"/><rect x="1038" y="0" width="25" height="1" fill="#a0a0a0"/><rect x="1038" y="0" width="1" height="22" fill="#a0a0a0"/><rect x="1038" y="22" width="26" height="1" fill="#fff"/><rect x="1063" y="0" width="1" height="23" fill="#fff"/></g>
<g font-family="'Liberation Sans',sans-serif" font-size="10px" fill="#404040">
<text x="903.5" y="16" textLength="12.5" lengthAdjust="spacingAndGlyphs">M1</text>
<text x="931.9" y="16" textLength="12.2" lengthAdjust="spacingAndGlyphs">M5</text>
<text x="957.75" y="16" textLength="17.5" lengthAdjust="spacingAndGlyphs">M15</text>
<text x="985.6" y="16" textLength="17.4" lengthAdjust="spacingAndGlyphs">M30</text>
<text x="1016.5" y="16" textLength="11.5" lengthAdjust="spacingAndGlyphs">H1</text>
<text x="1043.5" y="16" textLength="12.5" lengthAdjust="spacingAndGlyphs">H4</text>
<text x="1072.5" y="16" textLength="11.9" lengthAdjust="spacingAndGlyphs">D1</text>
<text x="1100" y="16" textLength="14" lengthAdjust="spacingAndGlyphs">W1</text>
<text x="1126.9" y="16" textLength="14.4" lengthAdjust="spacingAndGlyphs">MN</text>
</g>
<rect x="1149" y="0" width="1" height="23" fill="#a0a0a0" shape-rendering="crispEdges"/>
<line x1="1616.4" y1="12.6" x2="1612.4" y2="16.6" stroke="#2050c8" stroke-width="2.2" stroke-linecap="round"/><circle cx="1619.4" cy="9.4" r="3.8" fill="#f4f4f4" stroke="#2a5bd7" stroke-width="1.2"/>
<path d="M1637 14a5.6 4.6 0 0 1 11 0a5.6 4.6 0 0 1 -7 4.4l-2 2.2l-.2-2.8a5 4.4 0 0 1 -1.8 -3.8z" fill="#e6e8f0" stroke="#b8bac4" stroke-width=".8"/>
<circle cx="1650.5" cy="9.4" r="8.2" fill="url(#badge)"/>
<text x="1650.6" y="14.1" text-anchor="middle" font-family="'Liberation Sans',sans-serif" font-weight="bold" font-size="12.3px" fill="#fff">1</text>
</svg>
</body></html>
